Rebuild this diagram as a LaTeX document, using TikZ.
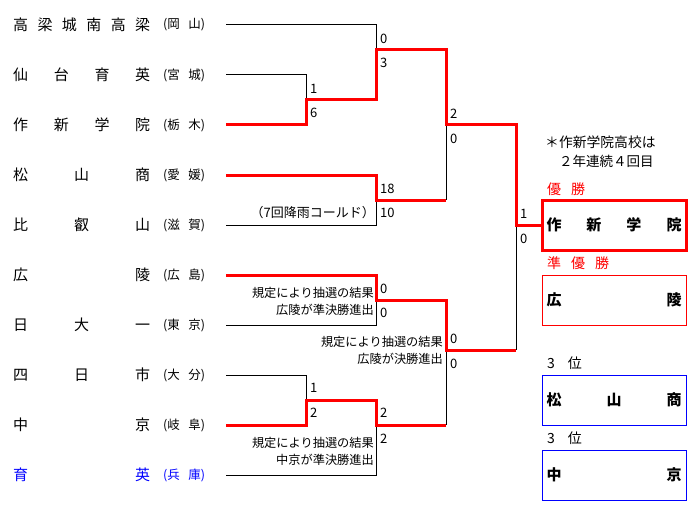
\documentclass[tikz,border=0pt]{standalone}
\usepackage{fontspec}
\setmainfont{Noto Sans CJK JP}
\begin{document}
\begin{tikzpicture}[x=1pt,y=-1pt,
  team/.style={anchor=west, inner sep=0pt, text width=137pt, font=\fontsize{15}{15}\selectfont},
  pref/.style={anchor=west, inner sep=0pt, text width=42pt, font=\fontsize{12.5}{12.5}\selectfont},
  score/.style={anchor=west, inner sep=0pt, font=\fontsize{13}{13}\selectfont},
  note/.style={anchor=east, inner sep=0pt, align=right, font=\fontsize{12.2}{17.5}\selectfont},
  lbl/.style={anchor=west, inner sep=0pt, font=\fontsize{14}{14}\selectfont},
  lose/.style={draw=black, line width=1pt},
  win/.style={draw=red, line width=3pt, line join=miter},
  resbox/.style={text width=135pt, inner xsep=4.5pt, inner ysep=0pt, minimum height=50pt, font=\fontsize{15}{15}\selectfont\bfseries}
]
\useasboundingbox (0,0) rectangle (697,511);

% team names
\node[team] (t1) at (13,25) {高\hfill 梁\hfill 城\hfill 南\hfill 高\hfill 梁};
\node[team] (t2) at (13,75) {仙\hfill 台\hfill 育\hfill 英};
\node[team] (t3) at (13,125) {作\hfill 新\hfill 学\hfill 院};
\node[team] (t4) at (13,175) {松\hfill 山\hfill 商};
\node[team] (t5) at (13,225) {比\hfill 叡\hfill 山};
\node[team] (t6) at (13,275) {広\hfill 陵};
\node[team] (t7) at (13,325) {日\hfill 大\hfill 一};
\node[team] (t8) at (13,375) {四\hfill 日\hfill 市};
\node[team] (t9) at (13,425) {中\hfill 京};
\node[team, text=blue] (t10) at (13,475) {育\hfill 英};

\node[pref] (p1) at (163,25) {(岡\hfill 山)};
\node[pref] (p2) at (163,75) {(宮\hfill 城)};
\node[pref] (p3) at (163,125) {(栃\hfill 木)};
\node[pref] (p4) at (163,175) {(愛\hfill 媛)};
\node[pref] (p5) at (163,225) {(滋\hfill 賀)};
\node[pref] (p6) at (163,275) {(広\hfill 島)};
\node[pref] (p7) at (163,325) {(東\hfill 京)};
\node[pref] (p8) at (163,375) {(大\hfill 分)};
\node[pref] (p9) at (163,425) {(岐\hfill 阜)};
\node[pref, text=blue] (p10) at (163,475) {(兵\hfill 庫)};

% line starts
\foreach \i in {1,...,10} \coordinate (s\i) at (226,{25+50*(\i-1)});
% junctions
\coordinate (a1) at (306,100);
\coordinate (a2) at (306,400);
\coordinate (b1) at (376,50);
\coordinate (b2) at (376,200);
\coordinate (b3) at (376,300);
\coordinate (b4) at (376,425);
\coordinate (c1) at (446,125);
\coordinate (c2) at (446,350);
\coordinate (d) at (516,225);

% result boxes
\node[resbox, draw=red, line width=3pt] (champ) at (614,225) {作\hfill 新\hfill 学\hfill 院};
\node[resbox, draw=red, line width=1pt] (second) at (614,300) {広\hfill 陵};
\node[resbox, draw=blue, line width=1pt] (third1) at (614,400) {松\hfill 山\hfill 商};
\node[resbox, draw=blue, line width=1pt] (third2) at (614,475) {中\hfill 京};

% losing lines
\draw[lose] (s1) -| (b1);
\draw[lose] (s2) -| (a1);
\draw[lose] (s5) -| (b2);
\draw[lose] (c1) -- (b2 -| c1);
\draw[lose] (s7) -| (b3);
\draw[lose] (s8) -| (a2);
\draw[lose] (s10) -| (b4);
\draw[lose] (c2) -- (b4 -| c2);
\draw[lose] (d) -- (c2 -| d);

% winning lines
\draw[win] (s3) -| (a1) -| (b1) -| (c1) -| (d) -- (champ.west);
\draw[win] (s4) -| (b2) -- (b2 -| c1);
\draw[win] (s6) -| (b3) -| (c2) -- (c2 -| d);
\draw[win] (s9) -| (a2) -| (b4) -- (b4 -| c2);

% scores
\node[score] (sc1) at (380,39) {0};
\node[score] (sc2) at (380,63) {3};
\node[score] (sc3) at (310,89) {1};
\node[score] (sc4) at (310,113) {6};
\node[score] (sc5) at (450,114) {2};
\node[score] (sc6) at (450,139) {0};
\node[score] (sc7) at (380,189) {18};
\node[score] (sc8) at (380,213) {10};
\node[score] (sc9) at (380,289) {0};
\node[score] (sc10) at (380,313) {0};
\node[score] (sc11) at (450,339) {0};
\node[score] (sc12) at (450,364) {0};
\node[score] (sc13) at (310,388) {1};
\node[score] (sc14) at (310,413) {2};
\node[score] (sc15) at (380,413) {2};
\node[score] (sc16) at (380,439) {2};
\node[score] (sc17) at (520,214) {1};
\node[score] (sc18) at (520,239) {0};

% notes
\node[note, font=\fontsize{13}{13}\selectfont] (n1) at (375,213) {（7回降雨コールド）};
\node[note] (n2) at (374,301.5) {規定により抽選の結果\\広陵が準決勝進出};
\node[note] (n3) at (443,350.5) {規定により抽選の結果\\広陵が決勝進出};
\node[note] (n4) at (374,451.5) {規定により抽選の結果\\中京が準決勝進出};

% right side labels
\node[lbl, font=\fontsize{13.8}{13.8}\selectfont] (rem1) at (545,142) {＊作新学院高校は};
\node[lbl, font=\fontsize{13.5}{13.5}\selectfont] (rem2) at (559,161) {２年連続４回目};
\node[lbl, text=red] (l1) at (547,189) {優\hspace{10pt}勝};
\node[lbl, text=red] (l2) at (547,263) {準\hspace{10pt}優\hspace{10pt}勝};
\node[lbl] (l3) at (547,363) {3\hspace{13pt}位};
\node[lbl] (l4) at (547,438) {3\hspace{13pt}位};
\end{tikzpicture}
\end{document}
